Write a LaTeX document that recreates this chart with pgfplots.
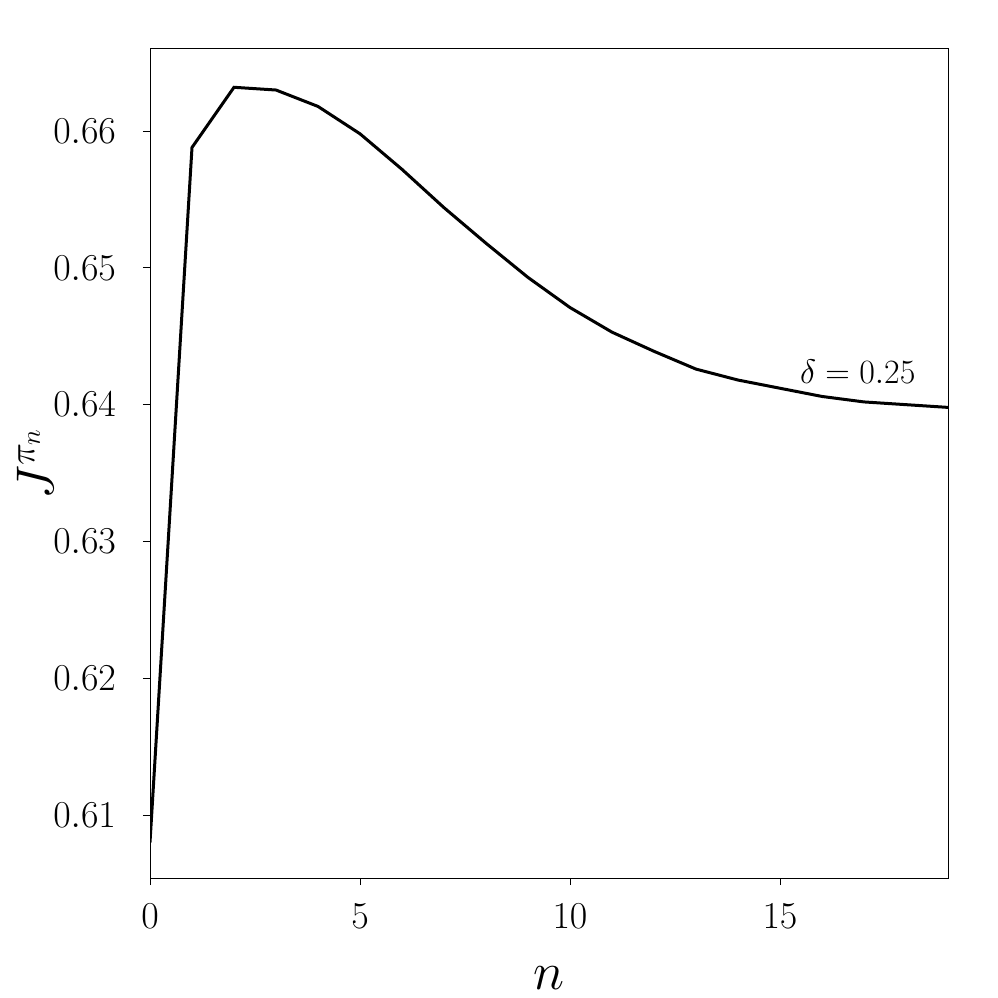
\RequirePackage{fix-cm}
\documentclass[border=0pt]{standalone}
\usepackage{pgfplots}
\pgfplotsset{compat=1.18}
\begin{document}
\begin{tikzpicture}
\begin{axis}[
    scale only axis,
    width=399pt, height=414.5pt,
    xmin=0, xmax=19,
    ymin=0.6054, ymax=0.6660,
    xtick={0,5,10,15},
    ytick={0.61,0.62,0.63,0.64,0.65,0.66},
    yticklabel style={/pgf/number format/fixed, /pgf/number format/precision=2,
        /pgf/number format/fixed zerofill, xshift=-10pt},
    tick label style={font=\fontsize{19}{23}\selectfont},
    xticklabel style={yshift=-6pt},
    tick align=outside,
    major tick length=3.5pt,
    tick style={black, line width=0.5pt},
    xtick pos=bottom, ytick pos=left,
    axis line style={line width=0.5pt},
    xlabel={$n$}, ylabel={$J^{\pi_n}$},
    label style={font=\fontsize{26.5}{30}\selectfont},
    xlabel style={yshift=-12pt},
    ylabel style={yshift=-7pt},
]
\addplot[black, line width=1.5pt] coordinates {
(0,0.6080) (1,0.6588) (2,0.6632) (3,0.6630) (4,0.6618) (5,0.6598)
(6,0.6572) (7,0.6544) (8,0.6518) (9,0.6493) (10,0.6471) (11,0.6453)
(12,0.6439) (13,0.6426) (14,0.6418) (15,0.6412) (16,0.6406) (17,0.6402)
(18,0.6400) (19,0.6398)
};
\node[font=\fontsize{17}{20}\selectfont] at (axis cs:16.85,0.6424) {$\delta = 0.25$};
\end{axis}
\pgfresetboundingbox
\path ([shift={(-75pt,-60pt)}]current axis.south west) rectangle ([shift={(25pt,24.5pt)}]current axis.north east);
\end{tikzpicture}
\end{document}
